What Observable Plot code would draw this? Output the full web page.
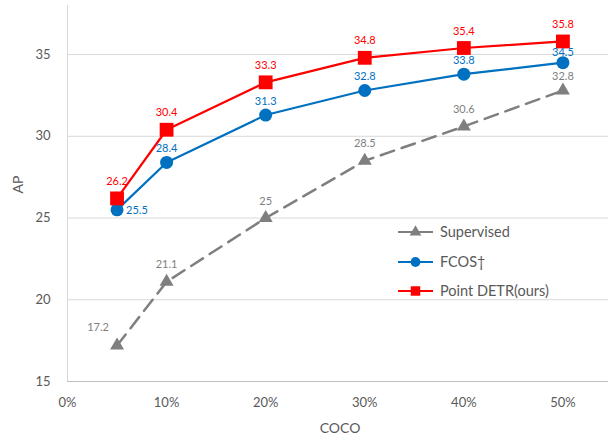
<!DOCTYPE html>
<html><head><meta charset="utf-8">
<script src="https://cdn.jsdelivr.net/npm/d3@7"></script>
<script src="https://cdn.jsdelivr.net/npm/@observablehq/plot@0.6"></script>
<style>body{margin:0;background:#fff;}</style>
</head><body><div id="chart"></div>
<script>
const fractions = [5, 10, 20, 30, 40, 50];
const supervised = [17.2, 21.1, 25, 28.5, 30.6, 32.8];
const fcos = [25.5, 28.4, 31.3, 32.8, 33.8, 34.5];
const pointDetr = [26.2, 30.4, 33.3, 34.8, 35.4, 35.8];
const seriesNames = ["Supervised", "FCOS†", "Point DETR(ours)"];
const seriesColors = ["#7f7f7f", "#0070c0", "#ff0000"];
const xTicks = [0, 10, 20, 30, 40, 50];
const yTicks = [15, 20, 25, 30, 35];

const mk = (vals, name) => fractions.map((f, i) => ({x: f, y: vals[i], series: name, i}));
const sup = mk(supervised, seriesNames[0]);
const fc = mk(fcos, seriesNames[1]);
const pd = mk(pointDetr, seriesNames[2]);
const font = "Lato, 'Open Sans', sans-serif";
const lbl = d => String(d.y);

const svg = Plot.plot({
  width: 610, height: 440,
  marginLeft: 67, marginRight: 2, marginTop: 5, marginBottom: 59,
  style: {fontFamily: font, background: "#fff"},
  x: {domain: [0, 54.6], ticks: xTicks, tickFormat: d => d + "%", label: null},
  y: {domain: [15, 38], ticks: yTicks, label: null},
  marks: [
    Plot.gridY(yTicks, {stroke: "#d9d9d9", strokeOpacity: 1}),
    Plot.ruleX([0], {stroke: "#d9d9d9"}),
    Plot.ruleY([15], {stroke: "#bfbfbf"}),
    Plot.line(sup, {x: "x", y: "y", stroke: seriesColors[0], strokeWidth: 2.5, strokeDasharray: "14,8"}),
    Plot.line(fc, {x: "x", y: "y", stroke: seriesColors[1], strokeWidth: 2.2}),
    Plot.line(pd, {x: "x", y: "y", stroke: seriesColors[2], strokeWidth: 2.2}),
    Plot.dot(sup, {x: "x", y: "y", symbol: "triangle", r: 5.2, fill: seriesColors[0]}),
    Plot.dot(fc, {x: "x", y: "y", symbol: "circle", r: 6.5, fill: seriesColors[1]}),
    Plot.dot(pd, {x: "x", y: "y", symbol: "square", r: 7.8, fill: seriesColors[2]}),
    Plot.text(sup.filter(d => d.i > 0 && d.i < 5), {x: "x", y: "y", text: lbl, dy: -17, fill: "#7f7f7f", fontSize: 11}),
    Plot.text(sup.filter(d => d.i === 5), {x: "x", y: "y", text: lbl, dy: -14, fill: "#7f7f7f", fontSize: 11}),
    Plot.text(sup.filter(d => d.i === 0), {x: "x", y: "y", text: lbl, dx: -19, dy: -18, fill: "#7f7f7f", fontSize: 11}),
    Plot.text(fc.filter(d => d.i > 0 && d.i < 5), {x: "x", y: "y", text: lbl, dy: -14, fill: seriesColors[1], fontSize: 11}),
    Plot.text(fc.filter(d => d.i === 5), {x: "x", y: "y", text: lbl, dy: -10, fill: seriesColors[1], fontSize: 11}),
    Plot.text(fc.filter(d => d.i === 0), {x: "x", y: "y", text: lbl, dx: 9, dy: 1, textAnchor: "start", fill: seriesColors[1], fontSize: 11}),
    Plot.text(pd, {x: "x", y: "y", text: lbl, dy: -17, fill: seriesColors[2], fontSize: 11}),
    Plot.axisX({ticks: xTicks, tickFormat: d => d + "%", tickSize: 0, tickPadding: 16, fontSize: 13, fill: "#595959", label: null}),
    Plot.axisY({ticks: yTicks, tickSize: 0, tickPadding: 17, fontSize: 13, fill: "#595959", label: null}),
    Plot.text(["AP"], {frameAnchor: "left", dx: -49, rotate: -90, fontSize: 14, fill: "#595959"}),
    Plot.text(["COCO"], {frameAnchor: "bottom", dy: 51, dx: 2, fontSize: 14, fill: "#595959"})
  ]
});

// legend inside the plot
const lg = d3.select(svg).append("g").attr("font-family", font).attr("text-anchor", "start");
const legendY = [232, 262, 291];
const symbols = [d3.symbolTriangle, d3.symbolCircle, d3.symbolSquare];
const symSize = [60, 75, 90];
seriesNames.forEach((name, k) => {
  const g = lg.append("g").attr("transform", `translate(398,${legendY[k]})`);
  g.append("line").attr("x1", 0).attr("x2", 35).attr("y1", 0).attr("y2", 0)
    .attr("stroke", seriesColors[k]).attr("stroke-width", 2.2);
  g.append("path").attr("d", d3.symbol(symbols[k], symSize[k])()).attr("transform", "translate(17.5,0)")
    .attr("fill", seriesColors[k]);
  g.append("text").attr("x", 42).attr("y", 0).attr("dy", "0.35em").attr("font-size", 14.5)
    .attr("text-anchor", "start").attr("fill", "#595959").text(name);
});
document.getElementById("chart").appendChild(svg);
</script>
</body></html>
